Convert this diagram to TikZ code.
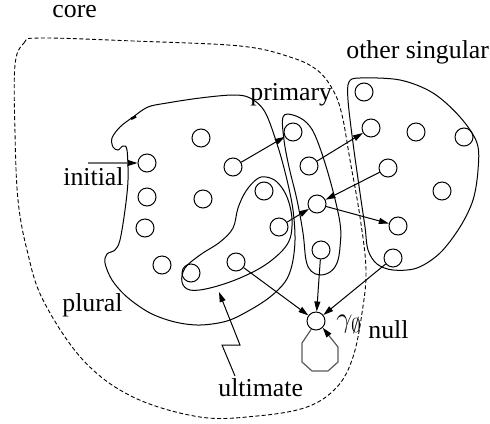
\documentclass[tikz,border=0pt]{standalone}
\usepackage{fontspec}
\setmainfont{Liberation Serif}
\usetikzlibrary{arrows.meta}
\begin{document}
\begin{tikzpicture}[x=0.5pt,y=-0.5pt,
  st/.style={circle, draw, minimum size=9pt, inner sep=0pt, line width=0.5pt},
  lbl/.style={anchor=base west, inner sep=0pt, font=\fontsize{12.9}{15}\selectfont},
  conn/.style={line width=0.5pt, -{Triangle[length=5pt,width=3pt]}},
  region/.style={line width=0.5pt},
  coreline/.style={line width=0.45pt, dash pattern=on 2pt off 1.2pt},
  loopline/.style={line width=0.6pt, black!65, -{Triangle[length=5pt,width=3pt,black]}},
  ]
\useasboundingbox (0,0) rectangle (490,423);

% core (dashed)
\draw[coreline] plot[smooth cycle, tension=0.6] coordinates {
  (15,65) (24,43) (40,38) (133,41) (240,46) (290,57) (317,70) (333,90) (342,115)
  (350,160) (360,217) (366,270) (362,313) (353,357) (337,387) (307,407)
  (257,416) (200,417) (133,397) (83,360) (43,300) (27,250) (18,200) (15,133)};

% plural region
\draw[region] plot[smooth cycle, tension=0.55] coordinates {
  (113,147) (118,150) (123,146) (127,150) (128,180) (125,210) (120,240) (115,250)
  (107,254) (105,263) (112,280) (127,297) (150,313) (175,322) (200,325)
  (227,321) (250,310) (270,297) (285,282) (292,265) (295,240) (293,210)
  (287,180) (278,147) (265,112) (250,98) (233,95) (200,98) (167,103)
  (148,107) (133,117) (120,127) (112,138)};
\draw[line width=1.2pt] (131,119) -- (136,116.5);

% ultimate region
\draw[region] plot[smooth cycle, tension=0.6] coordinates {
  (257,179) (266,177) (277,182) (287,197) (292,220) (288,243) (268,263)
  (240,278) (210,288) (190,290) (182,282) (185,268) (200,255) (220,242)
  (233,228) (238,208) (246,191)};

% primary region
\draw[region] plot[smooth cycle, tension=0.6] coordinates {
  (283,117) (293,115) (307,123) (317,140) (330,180) (340,223) (340,247)
  (337,263) (330,272) (320,275) (311,271) (306,260) (303,233) (297,200)
  (289,167) (284,140)};

% other singular region
\draw[region] plot[smooth cycle, tension=0.55] coordinates {
  (349,82) (360,78) (400,80) (433,93) (460,117) (477,143) (478,170)
  (473,200) (460,227) (440,253) (417,268) (393,270) (377,264) (368,250)
  (365,227) (360,193) (353,143) (348,100)};

% states: plural
\node[st] (p1) at (201,138) {};
\node[st] (p2) at (147,163) {};
\node[st] (p3) at (233,167) {};
\node[st] (p4) at (147,197) {};
\node[st] (p5) at (203,199) {};
\node[st] (p6) at (145,228) {};
\node[st] (p7) at (162,265) {};
% ultimate
\node[st] (u1) at (191,273) {};
\node[st] (u2) at (236,262) {};
\node[st] (u3) at (264,191) {};
\node[st] (u4) at (279,227) {};
% primary
\node[st] (r1) at (293,132) {};
\node[st] (r2) at (309,166) {};
\node[st] (r3) at (317,204) {};
\node[st] (r4) at (321,250) {};
% other singular
\node[st] (o1) at (364,92) {};
\node[st] (o2) at (371,128) {};
\node[st] (o3) at (416,132) {};
\node[st] (o4) at (464,137) {};
\node[st] (o5) at (388,168) {};
\node[st] (o6) at (442,191) {};
\node[st] (o7) at (398,226) {};
\node[st] (o8) at (393,258) {};
% null
\node[st] (g0) at (316,321) {};

% labels
\node[lbl] (lcore) at (52,18) {core};
\node[lbl] (lprim) at (250,100) {primary};
\node[lbl] (loth) at (346,58) {other singular};
\node[lbl] (linit) at (63,185) {initial};
\node[lbl] (lplur) at (62,311) {plural};
\node[lbl] (lult) at (218,396) {ultimate};
\node[lbl] (lnull) at (368,338) {null};
\node[lbl, font=\fontsize{14}{16}\selectfont] (lg) at (336,327) {$\gamma_{\emptyset}$};

% connectors
\coordinate (init) at (88,163);
\draw[line width=0.6pt, black!55, -{Triangle[length=5pt,width=3pt,black]}] (init) -- (p2);
\draw[conn] (p3) -- (r1);
\draw[conn] (r2) -- (o2);
\draw[conn] (o5) -- (r3);
\draw[conn] (r3) -- (o7);
\draw[conn] (u4) -- (r3);
\draw[conn] (u2) -- (g0);
\draw[conn] (r4) -- (g0);
\draw[conn] (o8) -- (g0);

% self loop on null
\draw[loopline] (g0.240) -- (302,343) -- (302,362) -- (312,371) -- (328,371)
  -- (338,362) -- (338,347) -- (g0.-45);

% ultimate pointer
\coordinate (us) at (235,376);
\coordinate (ue) at (219,292);
\draw[conn] (us) -- (222,345) -- (240,345) -- (ue);
\end{tikzpicture}
\end{document}
